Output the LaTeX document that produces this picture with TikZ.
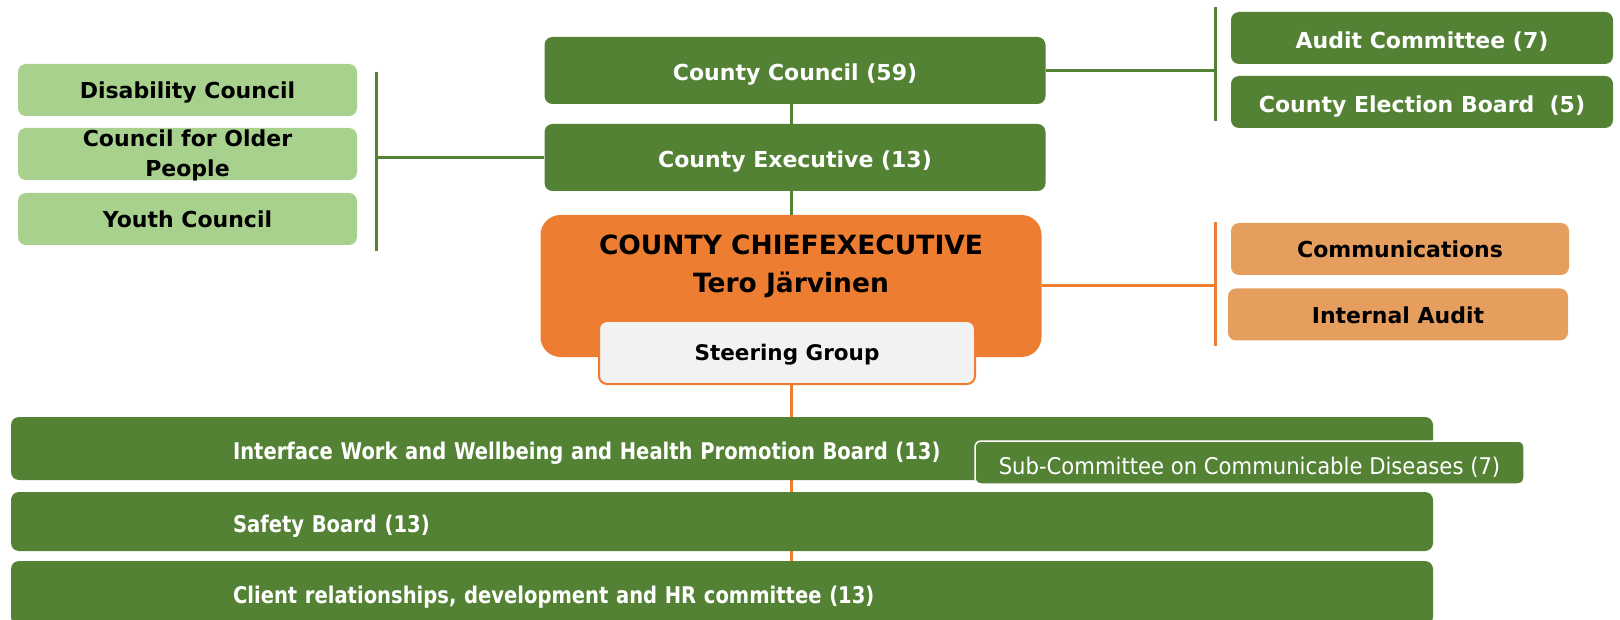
\documentclass[tikz,border=0pt]{standalone}
\usepackage{fontspec}
\setmainfont{DejaVu Sans}
\newfontfamily\narrowfont[FakeStretch=0.85]{DejaVu Sans}
\newfontfamily\subfont[FakeStretch=0.92]{DejaVu Sans}
\usetikzlibrary{backgrounds}

\definecolor{boardgreen}{HTML}{548235}
\definecolor{palegreen}{HTML}{A9D18E}
\definecolor{chieforange}{HTML}{ED7D31}
\definecolor{paleorange}{HTML}{E69E5F}
\definecolor{steergray}{HTML}{F2F2F2}

\tikzset{
  capcentre/.style={text height=18pt, text depth=0pt},
  mainbox/.style={fill=boardgreen, rounded corners=8pt, inner sep=0pt,
    text height=21pt, text depth=0pt,
    text=white, font=\bfseries\fontsize{22}{26}\selectfont},
  sidebox/.style={fill=palegreen, rounded corners=8pt, inner sep=0pt, capcentre,
    minimum width=339pt, minimum height=52pt, align=center,
    font=\bfseries\fontsize{22}{30}\selectfont},
  offbox/.style={fill=paleorange, rounded corners=8pt, inner sep=0pt, capcentre,
    minimum height=52pt, font=\bfseries\fontsize{22}{26}\selectfont},
  boardbox/.style={fill=boardgreen, rounded corners=8pt, inner ysep=0pt,
    text height=21pt, text depth=0pt,
    inner xsep=222pt, text width=978pt, align=left, text=white,
    font=\narrowfont\bfseries\fontsize{23}{27}\selectfont},
  greenline/.style={draw=boardgreen, line width=3pt},
  orangeline/.style={draw=chieforange, line width=3pt}
}

\begin{document}
\begin{tikzpicture}[x=1pt,y=-1pt]
  \useasboundingbox (0,0) rectangle (1620,620);

  % council level
  \node[mainbox, minimum width=501pt, minimum height=67pt] (council) at (795,70.5) {County Council (59)};
  \node[mainbox, minimum width=501pt, minimum height=67pt] (exec) at (795,157.5) {County Executive (13)};

  \node[mainbox, minimum width=382pt, minimum height=52pt] (audit) at (1422,38) {Audit Committee (7)};
  \node[mainbox, minimum width=382pt, minimum height=52pt] (election) at (1422,102) {County Election Board\ \ (5)};

  \node[sidebox] (disab) at (187.5,90) {Disability Council};
  \node[sidebox, text height=46pt] (older) at (187.5,154) {Council for Older\\People};
  \node[sidebox] (youth) at (187.5,219) {Youth Council};

  % chief executive
  \node[fill=chieforange, rounded corners=20pt, minimum width=501pt, minimum height=142pt] (chief) at (791,286) {};
  \node[align=center, font=\bfseries\fontsize{26.5}{38}\selectfont] (chiefname) at (791,266) {COUNTY CHIEFEXECUTIVE\\Tero Järvinen};
  \node[draw=chieforange, line width=2pt, fill=steergray, rounded corners=8pt, inner sep=0pt,
    text height=15.5pt, text depth=0pt,
    minimum width=376pt, minimum height=63pt, font=\bfseries\fontsize{21.5}{26}\selectfont] (steer) at (787,352.5) {Steering Group};

  \node[offbox, minimum width=338pt] (comm) at (1400,249) {Communications};
  \node[offbox, minimum width=340pt] (intaudit) at (1398,314.5) {Internal Audit};

  % boards
  \node[boardbox, minimum height=63pt] (iface) at (722,448.5) {Interface Work and Wellbeing and Health Promotion Board (13)};
  \node[boardbox, minimum height=59pt] (safety) at (722,521.5) {Safety Board (13)};
  \node[boardbox, minimum height=64pt] (client) at (722,593) {Client relationships, development and HR committee (13)};
  \node[draw=white, line width=1.5pt, fill=boardgreen, rounded corners=6pt, inner sep=0pt,
    minimum width=549pt, minimum height=43pt, text=white, text height=24pt, text depth=0pt,
    font=\subfont\fontsize{23}{27}\selectfont] (subcomm) at (1249.5,462.5) {Sub-Committee on Communicable Diseases (7)};

  \coordinate (lgtop) at (376,72);
  \coordinate (lgbot) at (376,251);
  \coordinate (rgtop) at (1215,7);
  \coordinate (rgbot) at (1215,121);
  \coordinate (rotop) at (1215,222);
  \coordinate (robot) at (1215,346);

  \begin{scope}[on background layer]
    \draw[greenline] (chief.north) -- (chief.north |- council.south);
    \draw[greenline] (lgtop) -- (lgbot);
    \draw[greenline] (exec.west) -- (exec.west -| lgtop);
    \draw[greenline] (rgtop) -- (rgbot);
    \draw[greenline] (council.east) -- (council.east -| rgtop);
    \draw[orangeline] (rotop) -- (robot);
    \draw[orangeline] (chief.east) -- (chief.east -| rotop);
    \draw[orangeline] (steer.south -| chief) -- (client.north -| chief);
  \end{scope}
\end{tikzpicture}
\end{document}
